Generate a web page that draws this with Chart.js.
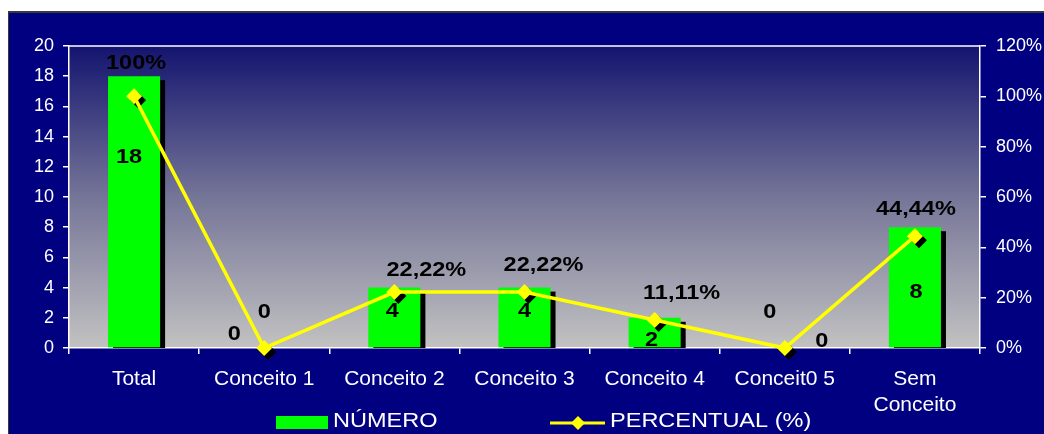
<!DOCTYPE html>
<html>
<head>
<meta charset="utf-8">
<script src="https://cdn.jsdelivr.net/npm/chart.js@4.4.1/dist/chart.umd.min.js"></script>
<style>
  html, body { margin: 0; padding: 0; background: #fff; }
  #wrap { width: 1044px; height: 434px; }
</style>
</head>
<body>
<div id="wrap"><canvas id="grafico" width="1044" height="434"></canvas></div>
<script>
// dados do gráfico
const categorias = ['Total', 'Conceito 1', 'Conceito 2', 'Conceito 3', 'Conceito 4', 'Conceit0 5', ['Sem', 'Conceito']];
const numero = [18, 0, 4, 4, 2, 0, 8];
const percentual = [100, 0, 22.22, 22.22, 11.11, 0, 44.44];
const serieNomes = ['NÚMERO', 'PERCENTUAL (%)'];

const FONTE = '"Liberation Sans", Arial, sans-serif';
const ESTICA = 1.12; // texto levemente alargado

function formataPct(v) {
  if (v === 0) return '0';
  if (Number.isInteger(v)) return v + '%';
  return v.toFixed(2).replace('.', ',') + '%';
}

function textoLargo(ctx, txt, x, y, align) {
  ctx.save();
  ctx.translate(x, y);
  ctx.scale(ESTICA, 1);
  ctx.textAlign = align || 'center';
  ctx.fillText(txt, 0, 0);
  ctx.restore();
}

function losango(ctx, x, y, r) {
  ctx.beginPath();
  ctx.moveTo(x, y - r);
  ctx.lineTo(x + r, y);
  ctx.lineTo(x, y + r);
  ctx.lineTo(x - r, y);
  ctx.closePath();
  ctx.fill();
}

// fundo azul e degradê da área de plotagem
const fundo = {
  id: 'fundo',
  beforeDraw(chart) {
    const { ctx, chartArea: a } = chart;
    ctx.save();
    ctx.fillStyle = '#ffffff';
    ctx.fillRect(0, 0, chart.width, chart.height);
    ctx.fillStyle = '#000080';
    ctx.fillRect(9, 12, chart.width - 9, chart.height - 12);
    ctx.fillStyle = '#3a3a3a';
    ctx.fillRect(9, 11, chart.width - 9, 2);
    ctx.fillRect(8, 11, 1, chart.height - 11);
    const g = ctx.createLinearGradient(0, a.top, 0, a.bottom);
    g.addColorStop(0, '#141470');
    g.addColorStop(0.5, '#757598');
    g.addColorStop(1, '#c2c2c2');
    ctx.fillStyle = g;
    ctx.fillRect(a.left, a.top, a.right - a.left, a.bottom - a.top);
    ctx.strokeStyle = '#ffffff';
    ctx.lineWidth = 1.5;
    ctx.beginPath();
    ctx.moveTo(a.left, a.top);
    ctx.lineTo(a.right, a.top);
    ctx.stroke();
    ctx.restore();
  }
};

// sombras pretas das barras e dos marcadores
const sombras = {
  id: 'sombras',
  beforeDatasetDraw(chart, args) {
    const { ctx, chartArea: a } = chart;
    const meta = args.meta;
    ctx.save();
    ctx.fillStyle = '#000000';
    if (meta.type === 'bar') {
      ctx.beginPath();
      ctx.rect(a.left, a.top, a.right - a.left, a.bottom - a.top);
      ctx.clip();
      meta.data.forEach(el => {
        if (el.base - el.y < 1) return;
        ctx.fillRect(el.x - el.width / 2 + 5, el.y + 4, el.width, el.base - el.y);
      });
    } else if (meta.type === 'line') {
      meta.data.forEach(el => losango(ctx, el.x + 4, el.y + 4, 8));
    }
    ctx.restore();
  }
};

// rótulos de dados e legenda
const rotulos = {
  id: 'rotulos',
  desvioBarra: [[-5, 81], [-30, -14], [-2, 24], [0, 24], [-3, 22], [37, -7], [1, 65]],
  desvioLinha: [[2, -33], [0, -36], [32, -22], [19, -27], [27, -27], [-15, -36], [1, -27]],
  afterDatasetsDraw(chart) {
    const { ctx } = chart;
    const barras = chart.getDatasetMeta(0).data;
    const pontos = chart.getDatasetMeta(1).data;
    ctx.save();
    ctx.fillStyle = '#000000';
    ctx.font = 'bold 21px ' + FONTE;
    ctx.textBaseline = 'middle';
    barras.forEach((el, i) => {
      const d = rotulos.desvioBarra[i];
      textoLargo(ctx, String(numero[i]), el.x + d[0], el.y + d[1]);
    });
    pontos.forEach((el, i) => {
      const d = rotulos.desvioLinha[i];
      textoLargo(ctx, formataPct(percentual[i]), el.x + d[0], el.y + d[1]);
    });

    // legenda
    const ly = 421;
    ctx.fillStyle = '#00ff00';
    ctx.fillRect(276, 416, 52, 13);
    ctx.fillStyle = '#ffffff';
    ctx.font = '21px ' + FONTE;
    textoLargo(ctx, serieNomes[0], 333, ly, 'left');
    ctx.strokeStyle = '#ffff00';
    ctx.lineWidth = 3;
    ctx.beginPath();
    ctx.moveTo(550, 423);
    ctx.lineTo(605, 423);
    ctx.stroke();
    ctx.fillStyle = '#ffff00';
    losango(ctx, 578, 423, 7);
    ctx.fillStyle = '#ffffff';
    textoLargo(ctx, serieNomes[1], 610, ly, 'left');
    ctx.restore();
  }
};

new Chart(document.getElementById('grafico'), {
  data: {
    labels: categorias,
    datasets: [
      {
        type: 'bar',
        label: serieNomes[0],
        data: numero,
        yAxisID: 'y',
        backgroundColor: '#00ff00',
        borderWidth: 0,
        categoryPercentage: 0.4,
        barPercentage: 1,
        order: 2
      },
      {
        type: 'line',
        label: serieNomes[1],
        data: percentual,
        yAxisID: 'y1',
        borderColor: '#ffff00',
        borderWidth: 3.5,
        backgroundColor: '#ffff00',
        pointStyle: 'rectRot',
        pointRadius: 8,
        pointBorderWidth: 0,
        tension: 0,
        clip: false,
        order: 1
      }
    ]
  },
  options: {
    responsive: false,
    animation: false,
    devicePixelRatio: 1,
    layout: { padding: { top: 46, left: 0, right: 0, bottom: 0 } },
    plugins: { legend: { display: false }, tooltip: { enabled: false } },
    scales: {
      x: {
        offset: true,
        grid: { offset: true, drawOnChartArea: false, color: '#ffffff', tickLength: 6, lineWidth: 1.5 },
        border: { color: '#ffffff', width: 1.5 },
        ticks: { color: '#ffffff', font: { family: FONTE, size: 21, lineHeight: 1.25 }, padding: 12, maxRotation: 0, autoSkip: false },
        afterFit(s) { s.height = 86; }
      },
      y: {
        position: 'left',
        min: 0, max: 20,
        ticks: { stepSize: 2, color: '#ffffff', font: { family: FONTE, size: 18 }, padding: 9 },
        grid: { drawOnChartArea: false, color: '#ffffff', tickLength: 6, lineWidth: 1.5 },
        border: { color: '#ffffff', width: 1.5 },
        afterFit(s) { s.width = 69; }
      },
      y1: {
        position: 'right',
        min: 0, max: 120,
        ticks: { stepSize: 20, color: '#ffffff', font: { family: FONTE, size: 18 }, padding: 10, callback: v => v + '%' },
        grid: { drawOnChartArea: false, color: '#ffffff', tickLength: 6, lineWidth: 1.5 },
        border: { color: '#ffffff', width: 1.5 },
        afterFit(s) { s.width = 64; }
      }
    }
  },
  plugins: [fundo, sombras, rotulos]
});
</script>
</body>
</html>
